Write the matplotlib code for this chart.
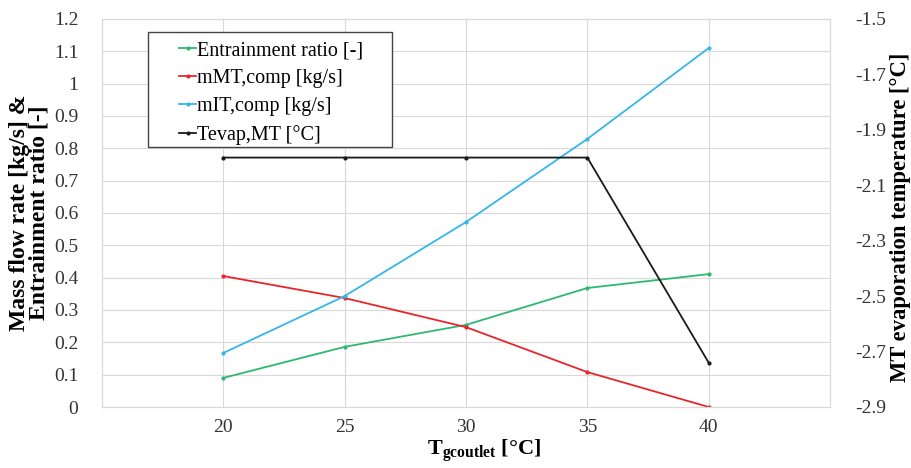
import matplotlib
matplotlib.use("Agg")
import matplotlib.pyplot as plt
from matplotlib.patches import Rectangle

plt.rcParams['font.family'] = ['Liberation Serif', 'DejaVu Serif']
plt.rcParams['mathtext.fontset'] = 'custom'
plt.rcParams['mathtext.rm'] = 'Liberation Serif'
plt.rcParams['mathtext.bf'] = 'Liberation Serif:bold'
plt.rcParams['mathtext.it'] = 'Liberation Serif:italic'
plt.rcParams['axes.unicode_minus'] = False

t_gc = [20, 25, 30, 35, 40]
entrainment = [0.09, 0.186, 0.254, 0.368, 0.411]
m_mt_comp = [0.405, 0.337, 0.247, 0.108, 0.0]
m_it_comp = [0.167, 0.343, 0.572, 0.829, 1.11]
tevap_mt = [-2.0, -2.0, -2.0, -2.0, -2.74]

left_ticks = [round(0.1 * i, 1) for i in range(13)]
left_labels = ['0', '0.1', '0.2', '0.3', '0.4', '0.5', '0.6', '0.7', '0.8', '0.9', '1', '1.1', '1.2']
right_ticks = [-2.9, -2.7, -2.5, -2.3, -2.1, -1.9, -1.7, -1.5]

W, H = 911, 468
fig = plt.figure(figsize=(W / 100, H / 100), dpi=100)
x0, x1, y0, y1 = 102, 830, 19, 407
ax = fig.add_axes([x0 / W, 1 - y1 / H, (x1 - x0) / W, (y1 - y0) / H])
ax2 = ax.twinx()

gridc = '#d9d9d9'
ax.set_xlim(15, 45)
ax.set_ylim(0, 1.2)
ax.set_yticks(left_ticks)
ax.set_yticklabels(left_labels)
ax.set_xticks(t_gc)
ax.grid(True, color=gridc, linewidth=0.8)
ax.set_axisbelow(True)
for s in ax.spines.values():
    s.set_color(gridc)
for s in ax2.spines.values():
    s.set_color(gridc)
ax.tick_params(axis='y', length=0, labelsize=14, pad=17, labelcolor='#333333')
ax.tick_params(axis='x', length=0, labelsize=14, pad=9, labelcolor='#333333')
ax2.tick_params(length=0, labelsize=14, pad=18, labelcolor='#333333')

l1, = ax.plot(t_gc, entrainment, color='#2eb872', marker='o', markersize=2, linewidth=1.3, label='Entrainment ratio [-]')
l2, = ax.plot(t_gc, m_mt_comp, color='#e8262a', marker='o', markersize=2, linewidth=1.3, label='mMT,comp [kg/s]')
l3, = ax.plot(t_gc, m_it_comp, color='#35b6ea', marker='o', markersize=2, linewidth=1.3, label='mIT,comp [kg/s]')

ax2.set_ylim(-2.9, -1.5)
ax2.set_yticks(right_ticks)
ax2.set_yticklabels([f'{v:.1f}' for v in right_ticks])
l4, = ax2.plot(t_gc, tevap_mt, color='#1a1a1a', marker='o', markersize=2, linewidth=1.3, label='Tevap,MT [°C]')

ax.set_ylabel('Mass flow rate [kg/s] &\nEntrainment ratio [-]', fontsize=17, fontweight='bold', linespacing=0.92)
ax.yaxis.set_label_coords((50 - x0) / (x1 - x0), 0.5)
ax2.set_ylabel('MT evaporation temperature [°C]', fontsize=16.3, fontweight='bold')
ax2.yaxis.set_label_coords((890 - x0) / (x1 - x0), 0.49)
ax.set_xlabel(r'T$_{\mathbf{gcoutlet}}$ [°C]', fontsize=16, fontweight='bold')
ax.xaxis.set_label_coords((484 - x0) / (x1 - x0), -(451 - y1) / (y1 - y0))
ax.xaxis.label.set_verticalalignment('center')

def ax_x(px):
    return (px - x0) / (x1 - x0)

def ax_y(py):
    return 1 - (py - y0) / (y1 - y0)

leg = ax.legend(handles=[l1, l2, l3, l4], loc='upper left', bbox_to_anchor=(ax_x(175), ax_y(37)),
                fontsize=14.5, frameon=False,
                handlelength=0.85, handletextpad=0.05, borderpad=0.2, labelspacing=0.44, borderaxespad=0)
ax.add_patch(Rectangle((ax_x(148), ax_y(147)), ax_x(392) - ax_x(148), ax_y(32) - ax_y(147),
                       transform=ax.transAxes, fill=True, facecolor='white', edgecolor='#444444',
                       linewidth=1.0, zorder=4))
leg.set_zorder(5)

fig.savefig('out.png', dpi=100)
